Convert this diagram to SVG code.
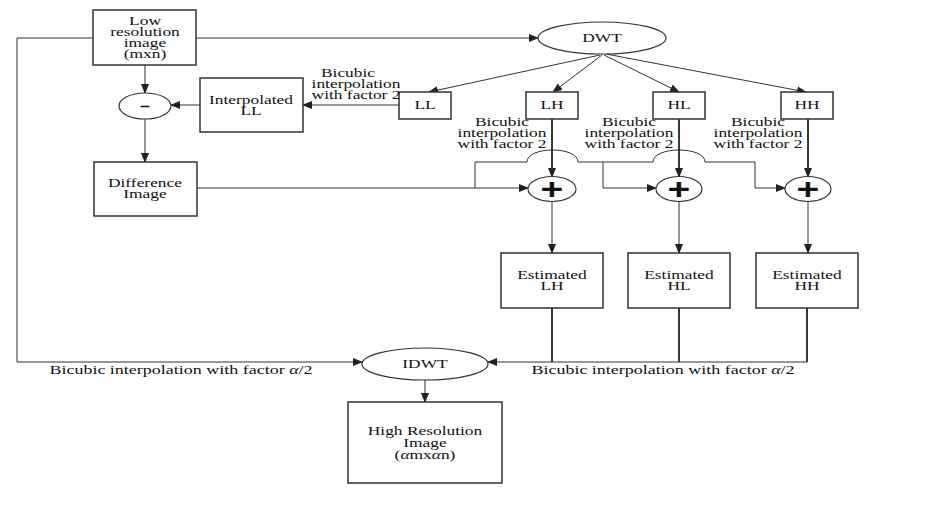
<svg xmlns="http://www.w3.org/2000/svg" width="926" height="531" viewBox="0 0 926 531">
<defs>
<marker id="ah" markerUnits="userSpaceOnUse" markerWidth="10" markerHeight="8" refX="9" refY="4" orient="auto">
<path d="M0,0 L10,4 L0,8 Z" fill="#222"/>
</marker>
<style>
.box{fill:#fff;stroke:#333;stroke-width:1.5}
.ell{fill:#fff;stroke:#333;stroke-width:1.2}
.ln{fill:none;stroke:#333;stroke-width:1}
.thk{fill:none;stroke:#222;stroke-width:1.8}
text{font-family:"Liberation Serif","Times New Roman",serif;font-size:12px;fill:#111;text-anchor:middle}
.sym{font-family:"Liberation Sans",Arial,sans-serif;font-weight:bold}
.plus{font-size:30px}
.minus{font-size:15px}
</style>
</defs>
<rect width="926" height="531" fill="#fff"/>

<g id="connectors">
<path class="ln" d="M145,65 V93" marker-end="url(#ah)"/>
<path class="ln" d="M145,119 V162" marker-end="url(#ah)"/>
<path class="ln" d="M200,105 H171" marker-end="url(#ah)"/>
<path class="ln" d="M399,105 H303" marker-end="url(#ah)"/>
<path class="ln" d="M196,38 H538" marker-end="url(#ah)"/>
<path class="ln" d="M93,38 H17 V362 H362" marker-end="url(#ah)"/>
<path class="ln" d="M600,55 L429,92" marker-end="url(#ah)"/>
<path class="ln" d="M602,55 L553,92" marker-end="url(#ah)"/>
<path class="ln" d="M604,55 L679,92" marker-end="url(#ah)"/>
<path class="ln" d="M606,54 L806,92" marker-end="url(#ah)"/>
<path class="thk" d="M552,119 V177" marker-end="url(#ah)"/>
<path class="thk" d="M679,119 V177" marker-end="url(#ah)"/>
<path class="thk" d="M808,119 V177" marker-end="url(#ah)"/>
<path class="ln" d="M197,188 H528" marker-end="url(#ah)"/>
<path class="ln" d="M475,188 V162 H527 C527,146 578,146 578,162 H653 C653,146 705,146 705,162 H755 V188 H785" marker-end="url(#ah)"/>
<path class="ln" d="M603,162 V188 H656" marker-end="url(#ah)"/>
<path class="ln" d="M552,202 V253" marker-end="url(#ah)"/>
<path class="ln" d="M679,201 V253" marker-end="url(#ah)"/>
<path class="ln" d="M808,201 V253" marker-end="url(#ah)"/>
<path class="thk" d="M552,308 V362"/>
<path class="thk" d="M679,308 V362"/>
<path class="thk" d="M807,308 V362"/>
<path class="ln" d="M807,362 H488" marker-end="url(#ah)"/>
<path class="ln" d="M425,380 V402" marker-end="url(#ah)"/>
</g>

<g id="lowres">
<rect class="box" x="93" y="10" width="103" height="55"/>
<text transform="translate(145,25) scale(1.45,1)">Low</text>
<text transform="translate(145,36) scale(1.45,1)">resolution</text>
<text transform="translate(145,47) scale(1.45,1)">image</text>
<text transform="translate(145,58) scale(1.45,1)">(mxn)</text>
</g>

<g id="dwt">
<ellipse class="ell" cx="602" cy="38" rx="64" ry="16"/>
<text transform="translate(602,42) scale(1.45,1)">DWT</text>
</g>

<g id="minus">
<ellipse class="ell" cx="145" cy="106" rx="26" ry="13"/>
<text class="sym minus" transform="translate(145,111) scale(1.2,1)">–</text>
</g>

<g id="interpLL">
<rect class="box" x="200" y="78" width="103" height="54"/>
<text transform="translate(251,104) scale(1.45,1)">Interpolated</text>
<text transform="translate(251,115) scale(1.45,1)">LL</text>
</g>

<g id="diff">
<rect class="box" x="94" y="162" width="103" height="54"/>
<text transform="translate(145,187) scale(1.45,1)">Difference</text>
<text transform="translate(145,198) scale(1.45,1)">Image</text>
</g>

<g id="LL">
<rect class="box" x="399" y="92" width="52" height="27"/>
<text transform="translate(425,109) scale(1.45,1)">LL</text>
</g>
<g id="LH">
<rect class="box" x="526" y="92" width="52" height="27"/>
<text transform="translate(552,109) scale(1.45,1)">LH</text>
</g>
<g id="HL">
<rect class="box" x="653" y="92" width="52" height="27"/>
<text transform="translate(679,109) scale(1.45,1)">HL</text>
</g>
<g id="HH">
<rect class="box" x="781" y="92" width="52" height="27"/>
<text transform="translate(807,109) scale(1.45,1)">HH</text>
</g>

<g id="labels">
<text transform="translate(348,77) scale(1.45,1)">Bicubic</text>
<text transform="translate(356,88) scale(1.45,1)">interpolation</text>
<text transform="translate(356,99) scale(1.45,1)">with factor 2</text>
<text transform="translate(502,126) scale(1.45,1)">Bicubic</text>
<text transform="translate(502,137) scale(1.45,1)">interpolation</text>
<text transform="translate(502,148) scale(1.45,1)">with factor 2</text>
<text transform="translate(629,126) scale(1.45,1)">Bicubic</text>
<text transform="translate(629,137) scale(1.45,1)">interpolation</text>
<text transform="translate(629,148) scale(1.45,1)">with factor 2</text>
<text transform="translate(758,126) scale(1.45,1)">Bicubic</text>
<text transform="translate(758,137) scale(1.45,1)">interpolation</text>
<text transform="translate(758,148) scale(1.45,1)">with factor 2</text>
<text transform="translate(181,374) scale(1.5,1)">Bicubic interpolation with factor <tspan font-style="italic">α</tspan>/2</text>
<text transform="translate(663,374) scale(1.5,1)">Bicubic interpolation with factor <tspan font-style="italic">α</tspan>/2</text>
</g>

<g id="plusLH">
<ellipse class="ell" cx="552" cy="189" rx="24" ry="12.5"/>
<text class="sym plus" transform="translate(552,199) scale(1.3,1)">+</text>
</g>
<g id="plusHL">
<ellipse class="ell" cx="679" cy="189" rx="23" ry="12.5"/>
<text class="sym plus" transform="translate(679,199) scale(1.3,1)">+</text>
</g>
<g id="plusHH">
<ellipse class="ell" cx="808" cy="189" rx="23" ry="12.5"/>
<text class="sym plus" transform="translate(808,199) scale(1.3,1)">+</text>
</g>

<g id="estLH">
<rect class="box" x="501" y="253" width="102" height="55"/>
<text transform="translate(552,279) scale(1.45,1)">Estimated</text>
<text transform="translate(552,290) scale(1.45,1)">LH</text>
</g>
<g id="estHL">
<rect class="box" x="628" y="253" width="102" height="55"/>
<text transform="translate(679,279) scale(1.45,1)">Estimated</text>
<text transform="translate(679,290) scale(1.45,1)">HL</text>
</g>
<g id="estHH">
<rect class="box" x="756" y="253" width="102" height="55"/>
<text transform="translate(807,279) scale(1.45,1)">Estimated</text>
<text transform="translate(807,290) scale(1.45,1)">HH</text>
</g>

<g id="idwt">
<ellipse class="ell" cx="425" cy="364" rx="63" ry="16"/>
<text transform="translate(425,368) scale(1.45,1)">IDWT</text>
</g>

<g id="highres">
<rect class="box" x="348" y="402" width="154" height="81"/>
<text transform="translate(425,435) scale(1.45,1)">High Resolution</text>
<text transform="translate(425,447) scale(1.45,1)">Image</text>
<text transform="translate(425,459) scale(1.45,1)">(<tspan font-style="italic">α</tspan>mx<tspan font-style="italic">α</tspan>n)</text>
</g>
</svg>
